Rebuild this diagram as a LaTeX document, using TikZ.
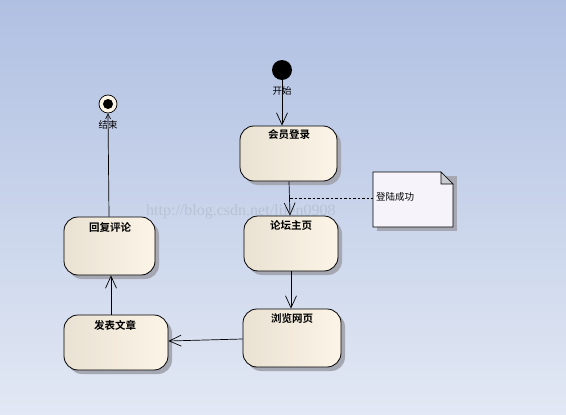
\documentclass[tikz,border=0pt]{standalone}
\usepackage{fontspec}
\setmainfont{Liberation Serif}
\newfontfamily\cjk{Noto Sans CJK SC}
\newfontfamily\cjkb{Noto Sans CJK SC Bold}
\usetikzlibrary{arrows.meta,calc}
\definecolor{bgtop}{RGB}{176,192,226}
\definecolor{bgbot}{RGB}{226,232,244}
\definecolor{boxl}{RGB}{233,225,210}
\definecolor{boxr}{RGB}{252,244,230}
\definecolor{shadowc}{RGB}{165,168,178}
\definecolor{notefill}{RGB}{246,244,250}
\tikzset{
  statebox/.style={draw=black, line width=0.8pt, rounded corners=14pt,
    left color=boxl, right color=boxr, minimum height=55pt,
    inner sep=0pt},
  boxtitle/.style={font=\cjkb\fontsize{10.5}{11}\selectfont, inner sep=0pt},
  lbl/.style={font=\cjk\fontsize{9.5}{10}\selectfont, inner sep=0pt},
  flow/.style={draw=black, line width=0.7pt,
    -{Straight Barb[length=12pt,width=11pt,line width=0.7pt]}},
}
\begin{document}
\begin{tikzpicture}[x=1pt,y=-1pt]
\shade[top color=bgtop, bottom color=bgbot] (0,0) rectangle (566,415);
\useasboundingbox (0,0) rectangle (566,415);

% shadows
\foreach \a/\b/\c/\d in {240/126/337/181, 244/216/338/271, 243/309/341/367, 64/315/168/370, 64/217/155/275}{
  \fill[shadowc, rounded corners=14pt] (\a+4,\b+4) rectangle (\c+4,\d+4);
}
\fill[shadowc] (377,176) rectangle (457,231);

% state boxes
\node[statebox, minimum width=97pt, minimum height=55pt] (login) at (288.5,153.5) {};
\node[statebox, minimum width=94pt, minimum height=55pt] (home) at (291,243.5) {};
\node[statebox, minimum width=98pt, minimum height=58pt] (browse) at (292,338) {};
\node[statebox, minimum width=104pt, minimum height=55pt] (post) at (116,342.5) {};
\node[statebox, minimum width=91pt, minimum height=58pt] (reply) at (109.5,246) {};

\node[boxtitle] at (289,135) {会员登录};
\node[boxtitle] at (291,225) {论坛主页};
\node[boxtitle] at (292,319) {浏览网页};
\node[boxtitle] at (115,325) {发表文章};
\node[boxtitle] at (110,227) {回复评论};

% start / end
\node[circle, fill=black, minimum size=20pt, inner sep=0pt] (start) at (282,70) {};
\node[lbl] (startlbl) at (282,91) {开始};
\node[circle, draw=black, line width=0.7pt, fill=boxr, minimum size=18pt, inner sep=0pt] (end) at (108,104) {};
\fill[black] (end.center) circle (5pt);
\node[lbl] (endlbl) at (108,125) {结束};

% note
\draw[line width=0.7pt, fill=notefill] (373,172) -- (441,172) -- (453,184) -- (453,227) -- (373,227) -- cycle;
\draw[line width=0.6pt, fill=shadowc!60] (441,172) -- (441,184) -- (453,184) -- cycle;
\node[lbl, anchor=west] (note) at (376,197) {登陆成功};

% connectors
\draw[flow] (start.south) -- (login.north -| start);
\draw[flow] ($(login.south)+(0.5,0)$) coordinate (a1) -- ($(home.north)+(-1,0)$);
\coordinate (dashA) at (290,198);
\draw[line width=0.6pt, dash pattern=on 2.5pt off 2pt] (dashA) -- (373,198);
\draw[flow] (home.south) -- (browse.north -| home.south);
\draw[flow] (browse.west |- 0,339) -- (post.east |- 0,341);
\draw[flow] (post.north -| 111,0) -- (reply.south -| 111,0);
\draw[line width=0.7pt, -{Straight Barb[length=5pt,width=5pt,line width=0.6pt]}] (reply.north -| 109,0) -- (end.south);

% watermark
\node[font=\fontsize{16}{16}\selectfont, text=gray, opacity=0.22, anchor=west, inner sep=0pt] at (146,212) {http://blog.csdn.net/lifen0908};
\end{tikzpicture}
\end{document}
